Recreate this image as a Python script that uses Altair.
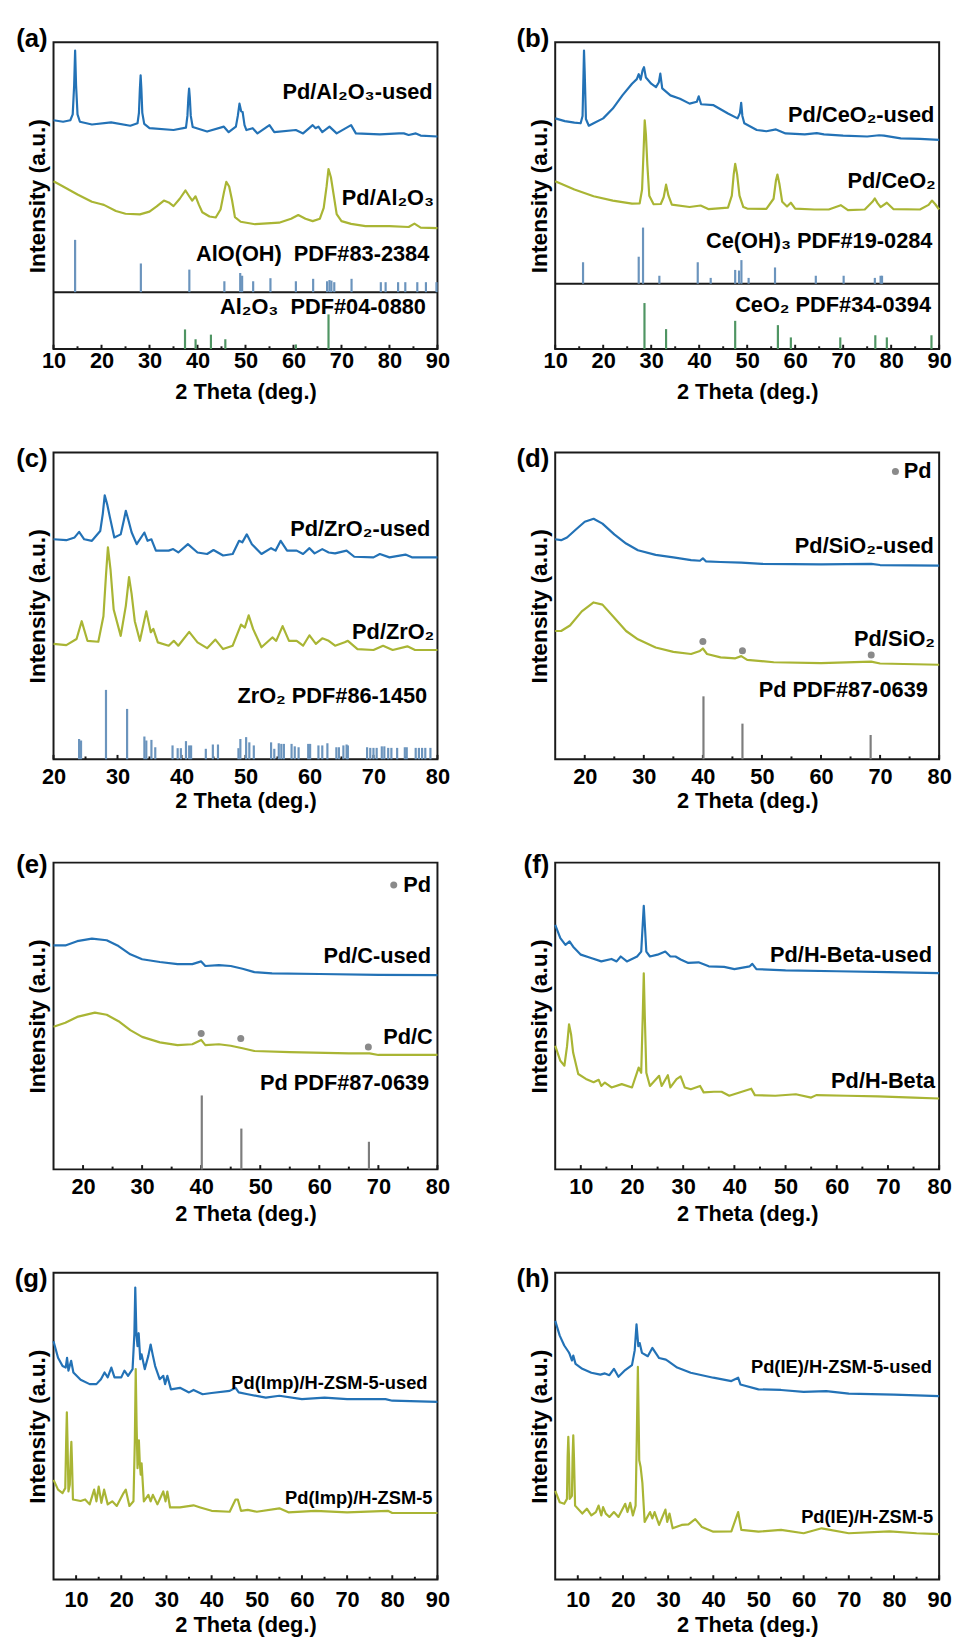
import altair as alt
import pandas as pd

FONT = "Liberation Sans"
BLUE = "#2372b6"
OLIVE = "#a9b534"
STICK_BLUE = "#6b94bd"
STICK_GREEN = "#4f9563"
GREY = "#7d7d7d"
DOT = "#8a8a8a"
INK = "#1a1a1a"

# ---------------- (a) ----------------
a_used = [(10,74.6),(12,74.1),(13.5,74.6),(14.0,76.5),(14.3,86),(14.5,97.3),(14.7,86),(15.0,76.5),(15.5,74.1),
          (18,73.2),(22,73.9),(26,72.8),(27.5,73.6),(27.8,77),(28.0,85),(28.15,89.2),(28.3,85),(28.5,77),(28.9,73.4),
          (30,72.0),(35,71.4),(37.6,72.2),(37.9,76),(38.1,82),(38.25,84.9),(38.4,82),(38.6,76),(39.0,72.4),(42,70.9),
          (45.5,72.5),(46.5,70.7),(48.0,72.5),(48.4,76),(48.75,80.0),(49.1,77.5),(49.4,77.3),(49.8,73),(50.2,71.4),
          (51.5,72.0),(52.5,70.3),(55,73.0),(56,70.7),(60.5,71.4),(62,70.3),(64,73.0),(64.6,72.0),(65.2,72.5),(66,70.7),
          (67.5,72.5),(69,70.3),(72,73.0),(73,70.3),(78,70.0),(82,70.3),(83,70.3),(84,69.8),(85.5,70.3),(86.5,69.6),(90,69.3)]
a_fresh = [(10,54.7),(12,53.0),(15,50.4),(18,48.0),(19.8,47.3),(20.5,47.0),(23,45.0),(25,44.1),(28,43.9),(30,44.8),
           (31.5,46.5),(33,48.4),(34,47.8),(35,46.6),(36.3,49),(37.5,51.7),(38.4,49.5),(38.9,48.4),(39.6,49.8),(40.3,47),
           (41,44.6),(42.5,43.2),(43.8,42.9),(44.8,45.5),(45.5,51),(46.0,54.5),(46.6,53),(47.2,48.5),(47.8,43),(49,41.5),
           (52,40.7),(57,41.2),(59.5,42.5),(61,43.7),(62.5,42.5),(64,41.7),(65.5,42.5),(66.3,46),(66.9,53),(67.3,58.7),
           (67.8,56),(68.4,50),(69,44),(70,41.7),(72,40.8),(75,40.1),(80,40.1),(84,39.8),(85.2,40.9),(86.5,39.6),(90,39.4)]
a_ref1 = [(14.5,35.6),(28.2,27.9),(38.3,25.9),(45.6,22.1),(48.9,24.8),(49.3,23.9),(51.6,22.1),(55.2,23.1),(60.5,22.1),
          (64.1,22.9),(67.0,22.1),(67.5,22.5),(67.9,22.3),(68.5,21.8),(72.1,22.9),(78.2,21.8),(79.2,21.8),(81.8,21.8),
          (83.3,21.8),(85.8,21.8),(87.6,21.8),(89.8,21.8)]
a_ref2 = [(37.4,6.4),(39.6,3.2),(42.8,4.7),(45.8,3.2),(60.5,1.5),(67.3,11.3)]
a_texts = [(89.0,83.8,"Pd/Al₂O₃-used"),(89.3,49.3,"Pd/Al₂O₃"),
           (88.3,31.0,"AlO(OH)\u00a0\u00a0PDF#83-2384"),(87.6,13.7,"Al₂O₃\u00a0\u00a0PDF#04-0880")]

# ---------------- (b) ----------------
b_used = [(10,75.2),(12,74.3),(14,73.8),(15.3,73.6),(15.7,76),(15.9,90),(16.0,97.3),(16.15,90),(16.4,75),(17,72.8),
          (18,73.6),(20,75.2),(22,78.4),(24,82.7),(26,86.5),(27.0,88),(27.4,89.6),(27.8,87.8),(28.2,90.8),(28.5,91.9),
          (28.9,88.5),(30,86.5),(31,85.4),(31.6,87),(31.9,89.8),(32.3,85),(34,82.7),(36,81.6),(38,80.0),(39.5,80.6),
          (39.9,82.4),(40.4,79.8),(43,79.5),(46,76.8),(48,75.2),(48.5,77),(48.75,80.3),(49.0,76),(49.4,73.6),(52,71.4),
          (54,71.0),(56,71.6),(58,70.3),(62,70.0),(64.5,70.4),(66,70.0),(70,69.6),(75,69.3),(77.5,69.7),(78.5,69.6),
          (82,68.7),(86,68.5),(90,68.2)]
b_fresh = [(10,54.7),(14,52.0),(18,49.8),(22,48.4),(26,47.4),(27.6,47.5),(28.1,52),(28.4,64),(28.65,74.6),(28.9,70),
           (29.2,60),(29.6,50),(30.5,47.2),(32,47.3),(32.6,49.5),(33.1,53.6),(33.6,50),(34.3,47.1),(38,46.3),(40.3,46.8),
           (42,45.6),(46,46.1),(46.8,50),(47.2,57),(47.5,60.4),(47.9,57),(48.4,50),(49.2,46.3),(50,45.8),(54,45.7),
           (55.5,49),(56.0,55),(56.3,56.9),(56.7,54),(57.3,48),(58.3,46.5),(59.1,47.7),(60.0,45.8),(64,45.5),(67,45.5),
           (69.5,46.9),(71,45.3),(74.5,45.5),(76.1,48),(76.6,49.1),(77.2,47.5),(77.8,46.3),(79.1,47.7),(80.5,45.6),
           (86,45.5),(87.8,47),(88.5,48.4),(89.2,47.2),(90,45.5)]
b_ref1 = [(15.8,28.3),(27.4,30.1),(28.3,39.6),(31.7,23.9),(39.7,28.3),(42.4,23.2),(47.5,25.8),(48.3,25.6),(48.8,29.0),
          (50.3,23.2),(55.8,26.6),(64.3,23.9),(70.1,23.9),(76.6,23.2),(77.8,23.9),(78.1,23.9)]
b_ref2 = [(28.6,15.0),(33.1,6.5),(47.5,9.2),(56.4,7.8),(59.1,3.8),(69.4,3.8),(76.7,4.5),(79.1,3.8),(88.4,4.5)]
b_texts = [(89.0,76.3,"Pd/CeO₂-used"),(89.3,54.7,"Pd/CeO₂"),
           (88.6,35.3,"Ce(OH)₃ PDF#19-0284"),(88.3,14.2,"CeO₂ PDF#34-0394")]

# ---------------- (c) ----------------
c_used = [(20,71.7),(22,71.4),(23.3,72.3),(24,74.1),(24.8,71.7),(26,71.2),(27.3,74.4),(27.7,80),(28.0,86.0),(28.4,83),
          (28.8,79),(29.5,72.3),(30.5,73.3),(31.0,78),(31.3,81.0),(31.7,78),(32.2,74),(33,70.1),(34.2,73.9),(34.7,71.2),
          (35.3,71.7),(36,68.0),(38,68.0),(38.7,68.5),(39.5,67.4),(41,70.1),(42.5,67.4),(44,66.9),(45,68.2),(46.5,66.4),
          (48,66.9),(49,71.2),(49.5,70.7),(50.2,73.3),(51,70.1),(52.5,66.9),(54,68.8),(54.7,68.0),(55.5,71.2),(56.5,68.0),
          (58,68.0),(59,66.9),(60,68.8),(60.8,67.1),(62,68.5),(63,67.4),(64,67.1),(65.8,68.0),(67,66.0),(70,65.8),
          (71,66.9),(72.5,65.8),(75,66.7),(76,65.8),(80,65.8)]
c_fresh = [(20,37.6),(22,37.2),(23.6,39.2),(24.4,45.0),(25.3,38.6),(27,38.3),(27.8,46.6),(28.2,60),(28.5,69.1),(28.9,62),
           (29.4,48.8),(30.5,40.2),(31.3,50),(31.8,59.4),(32.2,54),(32.7,45),(33.5,38.6),(34.5,48.2),(35.2,41.4),
           (35.6,42.5),(36.3,38.1),(38,37.0),(38.8,38.6),(39.5,37.0),(41.2,41.5),(42.5,38.1),(44,36.2),(45.3,39.0),
           (46.5,35.9),(48,37.0),(49.3,43.9),(49.9,42.9),(50.5,46.9),(51.2,42.4),(52.5,36.5),(54.2,39.7),(54.8,38.6),
           (55.8,43.4),(56.8,38.6),(58,38.6),(59,37.0),(60,40.4),(61,37.6),(62,39.4),(63,38.6),(64,37.0),(65.5,38.1),
           (66,38.6),(67.5,35.9),(70,35.6),(71.5,37.0),(73,35.6),(75.3,36.8),(76.5,35.6),(80,35.6)]
c_ref = [(24.0,6.6),(24.3,6.1),(28.2,22.6),(31.5,16.4),(34.2,7.4),(34.5,6.1),(35.3,6.3),(35.9,3.9),(38.6,4.5),(39.4,3.6),
         (39.9,3.6),(40.7,5.9),(41.2,4.5),(41.5,4.5),(43.8,3.4),(44.9,4.8),(45.7,4.8),(48.9,3.6),(49.2,6.6),(50.1,7.2),
         (50.6,5.5),(51.3,4.5),(54.0,5.5),(54.5,3.4),(55.2,5.2),(55.6,5.0),(56.0,5.0),(57.2,5.0),(57.7,4.2),(58.3,3.9),
         (59.8,5.0),(60.1,5.0),(61.4,4.5),(62.0,4.5),(62.8,5.2),(64.2,3.9),(64.6,3.9),(65.3,4.5),(65.8,4.8),(66.0,4.5),
         (69.0,3.9),(69.5,3.7),(70.0,3.7),(70.5,3.7),(71.3,4.2),(71.7,4.2),(72.3,3.7),(72.8,3.7),(73.7,3.7),(74.9,3.9),
         (75.2,3.9),(76.6,3.7),(77.1,3.7),(77.6,3.7),(78.1,3.7),(78.9,3.7)]
c_texts = [(78.9,74.9,"Pd/ZrO₂-used"),(79.5,41.3,"Pd/ZrO₂"),(78.4,20.5,"ZrO₂ PDF#86-1450")]

# ---------------- (d) ----------------
d_used = [(15,71.7),(16,71.4),(17,72.3),(18.5,74.9),(20,77.4),(21.5,78.4),(23,76.8),(25,73.3),(27,70.3),(29,68.1),
          (32,66.6),(35,65.8),(38,64.9),(39.5,64.7),(40.0,65.5),(40.5,64.5),(43,64.3),(46.5,64.1),(50,63.7),(60,63.5),
          (68.5,63.7),(70,63.3),(80,63.1)]
d_fresh = [(15,41.8),(16,41.8),(17.5,43.6),(19.5,48.2),(21.5,51.1),(23,50.4),(25,46.1),(27,41.8),(29,39.1),(32,36.4),
           (35,35.0),(38,34.3),(39.5,35.3),(40.0,36.1),(40.7,34.3),(43,33.2),(45.5,32.9),(46.5,33.6),(47.5,32.4),
           (52,31.6),(60,31.3),(68.5,31.8),(70,31.2),(80,30.8)]
d_dots = [(40.0,38.4),(46.7,35.4),(68.5,34.0),(72.6,93.8)]
d_ref = [(40.1,20.5),(46.7,11.6),(68.4,7.9)]
d_texts = [(79.1,69.6,"Pd/SiO₂-used"),(79.3,39.2,"Pd/SiO₂"),(78.1,22.6,"Pd PDF#87-0639")]
d_left = [(74.0,93.8,"Pd")]

# ---------------- (e) ----------------
e_used = [(15,73.0),(17,73.0),(19,74.4),(21.5,75.2),(24,74.7),(26,72.8),(28,70.1),(30,68.5),(33,67.6),(36,66.9),
          (38.5,66.9),(40.0,67.8),(40.7,66.3),(43,66.6),(45,66.3),(47,65.4),(49,64.3),(52,63.9),(60,63.7),(70,63.4),(80,63.3)]
e_fresh = [(15,46.5),(17,47.8),(19,49.7),(22,51.1),(24,50.4),(26,48.3),(28,45.4),(30,43.2),(33,41.4),(36,40.5),
           (38.5,40.8),(40.0,42.2),(40.7,40.5),(43,40.8),(45,40.3),(47,39.5),(49,38.6),(55,38.2),(65,37.8),(68.5,37.8),
           (70,37.3),(80,37.3)]
e_dots = [(40.0,44.3),(46.7,42.7),(68.3,39.9),(72.6,92.7)]
e_ref = [(40.1,24.1),(46.8,13.3),(68.4,9.0)]
e_texts = [(78.9,69.6,"Pd/C-used"),(79.2,43.2,"Pd/C"),(78.6,28.0,"Pd PDF#87-0639")]
e_left = [(74.2,92.7,"Pd")]

# ---------------- (f) ----------------
f_used = [(5,79.7),(6,75.4),(7,73.2),(7.8,74.3),(8.5,72.6),(10,70.0),(12,68.9),(14,67.8),(16,68.6),(17,67.8),(17.8,69.4),
          (19,67.8),(21,69.4),(21.8,71.0),(22.1,80),(22.3,85.9),(22.5,80),(22.8,71.0),(23.5,69.4),(25,70.0),(26.5,71.0),
          (27.5,69.4),(28.5,69.4),(29.5,68.4),(31,67.3),(33,67.5),(35,66.2),(38,66.0),(40,65.3),(43,66.2),(43.5,67.0),
          (44.3,65.3),(50,64.9),(60,64.6),(70,64.3),(80,64.0)]
f_fresh = [(5,40.3),(6,35.4),(6.8,33.8),(7.3,40),(7.7,47.3),(8.1,44),(8.5,38.1),(9.5,31.1),(11,29.5),(12.5,28.4),
           (13.5,29.2),(14,27.2),(14.7,28.3),(16,26.7),(18,27.8),(20,26.7),(21.3,33.2),(21.8,31.5),(22.1,50),(22.3,63.9),
           (22.5,50),(22.8,31.5),(23.5,27.2),(25.3,30.5),(25.8,27.2),(27,30.7),(27.5,26.7),(28.7,29.4),(29.5,30.3),
           (30.3,26.7),(31.5,26.1),(33.3,27.2),(34,25.1),(36,25.3),(37.5,25.3),(39,24.0),(43.3,26.3),(44,24.2),(48,24.0),
           (52,24.5),(55,23.4),(56,24.2),(62,24.0),(68,23.8),(75,23.4),(80,23.1)]
f_texts = [(78.6,70.0,"Pd/H-Beta-used"),(79.2,28.9,"Pd/H-Beta")]

# ---------------- (g) ----------------
g_used = [(5,77.7),(6,72.3),(7,69.6),(7.7,69.1),(8.0,72.3),(8.3,68.1),(8.9,71.3),(9.4,67.5),(11,65.1),(13,63.7),
          (14.5,63.7),(15.5,65.3),(16.3,67.5),(17,65.9),(17.8,69.1),(18.5,65.9),(20,65.9),(20.7,68.1),(21.5,66.4),
          (22.5,68.6),(22.9,80),(23.1,95.2),(23.35,80),(23.6,76.1),(23.85,80.3),(24.2,71.8),(24.5,73.4),(25.2,68.6),
          (26.0,73),(26.5,76.6),(27.0,73),(27.5,69.6),(28.5,65.3),(29.3,66.4),(29.7,63.7),(30.2,66.4),(31,62.0),(33,62.5),
          (35,61.0),(36,61.8),(38,60.4),(40,60.8),(44,61.5),(45.3,62.5),(46,61.0),(48,60.4),(52,59.3),(55,59.9),(60,58.8),
          (65,59.3),(70,58.8),(78.5,58.8),(80,58.3),(90,57.9)]
g_fresh = [(5,32.5),(6,29.3),(7,28.2),(7.6,29.8),(7.8,45),(7.95,54.5),(8.1,45),(8.3,28.7),(8.6,30.9),(8.8,40),(8.95,44.9),
           (9.1,38),(9.3,26.1),(11,25.6),(12,26.1),(13,24.5),(14,29.3),(14.5,25.5),(15,30.3),(15.6,25.0),(16.2,29.3),
           (17,24.5),(18,25.5),(19,24.0),(20.5,28.2),(21,29.3),(21.8,24.0),(22.7,25.5),(23.0,45),(23.2,68.6),(23.4,50),
           (23.6,36.3),(23.9,45.4),(24.1,38),(24.3,34.2),(24.5,37.9),(25,25.5),(26,27.6),(26.5,25.5),(27,27.6),(28,24.5),
           (29.3,28.7),(29.8,25.5),(30.2,28.7),(30.8,23.5),(33,23.5),(36,24.2),(37.5,23.5),(40,22.4),(44,22.1),(45.3,26.1),
           (45.8,26.1),(46.5,22.4),(48,22.7),(50,22.1),(55,23.2),(57,21.9),(63,22.4),(70,21.9),(79,22.4),(80,21.7),(90,21.7)]
g_texts = [(87.8,64.2,"Pd(Imp)/H-ZSM-5-used"),(88.9,26.4,"Pd(Imp)/H-ZSM-5")]

# ---------------- (h) ----------------
h_used = [(5,84.3),(6,79.5),(7,76.3),(8,74.1),(8.2,73.5),(8.7,71.4),(9.0,73.0),(9.5,70.3),(11,68.7),(13,67.4),(15,66.8),
          (16,67.2),(17,66.6),(18,68.7),(19,66.1),(20.5,68.3),(22,69.9),(22.6,74.7),(23.0,83.2),(23.4,76.1),(23.7,77.1),
          (24.2,73.9),(25.5,72.8),(26.5,75.5),(28,72.2),(29.5,71.7),(30,71.2),(32,69.1),(35,67.4),(40,65.8),(44,64.7),
          (45.5,65.8),(46,63.6),(50,62.0),(55,61.8),(60,61.2),(65,61.4),(70,60.6),(80,60.3),(90,59.8)]
h_fresh = [(5,28.9),(6,25.2),(7,24.7),(7.6,26.3),(7.75,40),(7.9,46.5),(8.05,40),(8.2,26.3),(8.7,27.3),(8.85,40),(9.0,47.0),
           (9.15,40),(9.4,24.1),(11,21.5),(12,23.1),(13,20.9),(14,22.0),(14.6,24.1),(15.2,20.9),(15.6,23.6),(16.2,21.5),
           (17,20.4),(18,22.0),(19,20.4),(20.5,24.7),(21,22.0),(21.6,25.0),(22.2,20.9),(22.8,24.1),(23.05,45),(23.3,69.3),
           (23.5,50),(23.6,38.9),(23.9,36.8),(24.3,31.5),(24.8,18.8),(26,22.0),(26.5,19.9),(27,22.0),(28,17.8),(29.4,22.8),
           (29.8,18.8),(30.3,21.5),(31,16.7),(33,17.8),(34.5,18.0),(36,19.7),(37.5,17.1),(40,15.6),(44,15.7),(45.5,22.0),
           (46.2,16.2),(50,15.6),(55,16.2),(60,15.1),(64,16.7),(70,15.1),(79,15.7),(85,15.1),(90,14.8)]
h_texts = [(88.4,69.4,"Pd(IE)/H-ZSM-5-used"),(88.7,20.5,"Pd(IE)/H-ZSM-5")]


def xy(pairs):
    return pd.DataFrame(pairs, columns=["x", "y"])


def panel(letter, xdom, majors, minors, curves, sticks=(), texts=(), left_texts=(), dots=None,
          dividers=(), lp=7, tp=7, tsize=22, ly=-3):
    X = alt.X("x:Q", scale=alt.Scale(domain=xdom, nice=False, zero=False),
              axis=alt.Axis(values=majors, format="d", ticks=False, domain=False, grid=False,
                            labelFont=FONT, labelFontSize=22, labelFontWeight="bold", labelColor="black",
                            labelPadding=lp, labelFlush=False, labelOverlap=False, minExtent=0,
                            title="2 Theta (deg.)", titleFont=FONT, titleFontSize=22, titleFontWeight="bold",
                            titleColor="black", titlePadding=tp))
    Y = alt.Y("y:Q", scale=alt.Scale(domain=[0, 100], nice=False, zero=False),
              axis=alt.Axis(title="Intensity (a.u.)", labels=False, ticks=False, domain=False, grid=False,
                            minExtent=0, titleFont=FONT, titleFontSize=23, titleFontWeight="bold",
                            titleColor="black", titlePadding=4))
    layers = []
    tick_df = pd.DataFrame({"x": list(majors) + list(minors),
                            "y": [0.0] * (len(majors) + len(minors)),
                            "y2": [1.4] * len(majors) + [0.9] * len(minors)})
    layers.append(alt.Chart(tick_df).mark_rule(color=INK, strokeWidth=2).encode(x=X, y=Y, y2="y2:Q"))
    for v in dividers:
        layers.append(alt.Chart(pd.DataFrame({"y": [v]})).mark_rule(color=INK, strokeWidth=2).encode(y=Y))
    for pairs, base, color in sticks:
        df = pd.DataFrame(pairs, columns=["x", "y2"])
        df["y"] = base
        layers.append(alt.Chart(df).mark_rule(color=color, strokeWidth=2.2).encode(x=X, y=Y, y2="y2:Q"))
    for pairs, color in curves:
        layers.append(alt.Chart(xy(pairs)).mark_line(color=color, strokeWidth=2.2, strokeJoin="round")
                      .encode(x=X, y=Y))
    if dots:
        layers.append(alt.Chart(xy(dots)).mark_circle(color=DOT, size=50, opacity=1).encode(x=X, y=Y))
    if texts:
        tdf = pd.DataFrame(list(texts), columns=["x", "y", "t"])
        layers.append(alt.Chart(tdf).mark_text(align="right", baseline="middle", font=FONT, fontSize=tsize,
                                               fontWeight="bold", color="black").encode(x=X, y=Y, text="t:N"))
    if left_texts:
        tdf = pd.DataFrame(list(left_texts), columns=["x", "y", "t"])
        layers.append(alt.Chart(tdf).mark_text(align="left", baseline="middle", font=FONT, fontSize=tsize,
                                               fontWeight="bold", color="black").encode(x=X, y=Y, text="t:N"))
    layers.append(alt.Chart(pd.DataFrame({"t": [letter]})).mark_text(
        align="right", baseline="middle", font=FONT, fontSize=26, fontWeight="bold", color="black")
        .encode(x=alt.value(-6), y=alt.value(ly), text="t:N"))
    return alt.layer(*layers).properties(width=388, height=310)


r10_90 = [10, 20, 30, 40, 50, 60, 70, 80, 90]
m10_90 = [15, 25, 35, 45, 55, 65, 75, 85]

pa = panel("(a)", [10, 90], r10_90, m10_90, [(a_used, BLUE), (a_fresh, OLIVE)],
           sticks=[(a_ref1, 18.55, STICK_BLUE), (a_ref2, 0, STICK_GREEN)], texts=a_texts,
           dividers=[18.55], lp=2, tp=10, ly=-3)
pb = panel("(b)", [10, 90], r10_90, m10_90, [(b_used, BLUE), (b_fresh, OLIVE)],
           sticks=[(b_ref1, 21.3, STICK_BLUE), (b_ref2, 0, STICK_GREEN)], texts=b_texts,
           dividers=[21.3], lp=2, tp=10, ly=-3)
pc = panel("(c)", [20, 80], [20, 30, 40, 50, 60, 70, 80], [25, 35, 45, 55, 65, 75],
           [(c_used, BLUE), (c_fresh, OLIVE)], sticks=[(c_ref, 0, STICK_BLUE)], texts=c_texts,
           lp=8, tp=3, ly=7)
pd_ = panel("(d)", [15, 80], [20, 30, 40, 50, 60, 70, 80], [25, 35, 45, 55, 65, 75],
            [(d_used, BLUE), (d_fresh, OLIVE)], sticks=[(d_ref, 0, GREY)], texts=d_texts, left_texts=d_left,
            dots=d_dots, lp=8, tp=3, ly=7)
pe = panel("(e)", [15, 80], [20, 30, 40, 50, 60, 70, 80], [25, 35, 45, 55, 65, 75],
           [(e_used, BLUE), (e_fresh, OLIVE)], sticks=[(e_ref, 0, GREY)], texts=e_texts, left_texts=e_left,
           dots=e_dots, lp=7, tp=7, ly=2)
pf = panel("(f)", [5, 80], [10, 20, 30, 40, 50, 60, 70, 80], [15, 25, 35, 45, 55, 65, 75],
           [(f_used, BLUE), (f_fresh, OLIVE)], texts=f_texts, lp=7, tp=7, ly=2)
pg = panel("(g)", [5, 90], r10_90, m10_90, [(g_used, BLUE), (g_fresh, OLIVE)], texts=g_texts,
           lp=10, tp=5, tsize=18.5, ly=6)
ph = panel("(h)", [5, 90], r10_90, m10_90, [(h_used, BLUE), (h_fresh, OLIVE)], texts=h_texts,
           lp=10, tp=5, tsize=18.5, ly=6)

chart = alt.concat(pa, pb, pc, pd_, pe, pf, pg, ph, columns=2,
                   spacing={"row": 104.5, "column": 119}, bounds="flush").properties(
    padding={"left": 5, "top": 9, "right": 0, "bottom": 0},
    background="white",
).configure_view(stroke=INK, strokeWidth=2)

chart.save("out.html", embed_options={"renderer": "svg", "actions": False})
